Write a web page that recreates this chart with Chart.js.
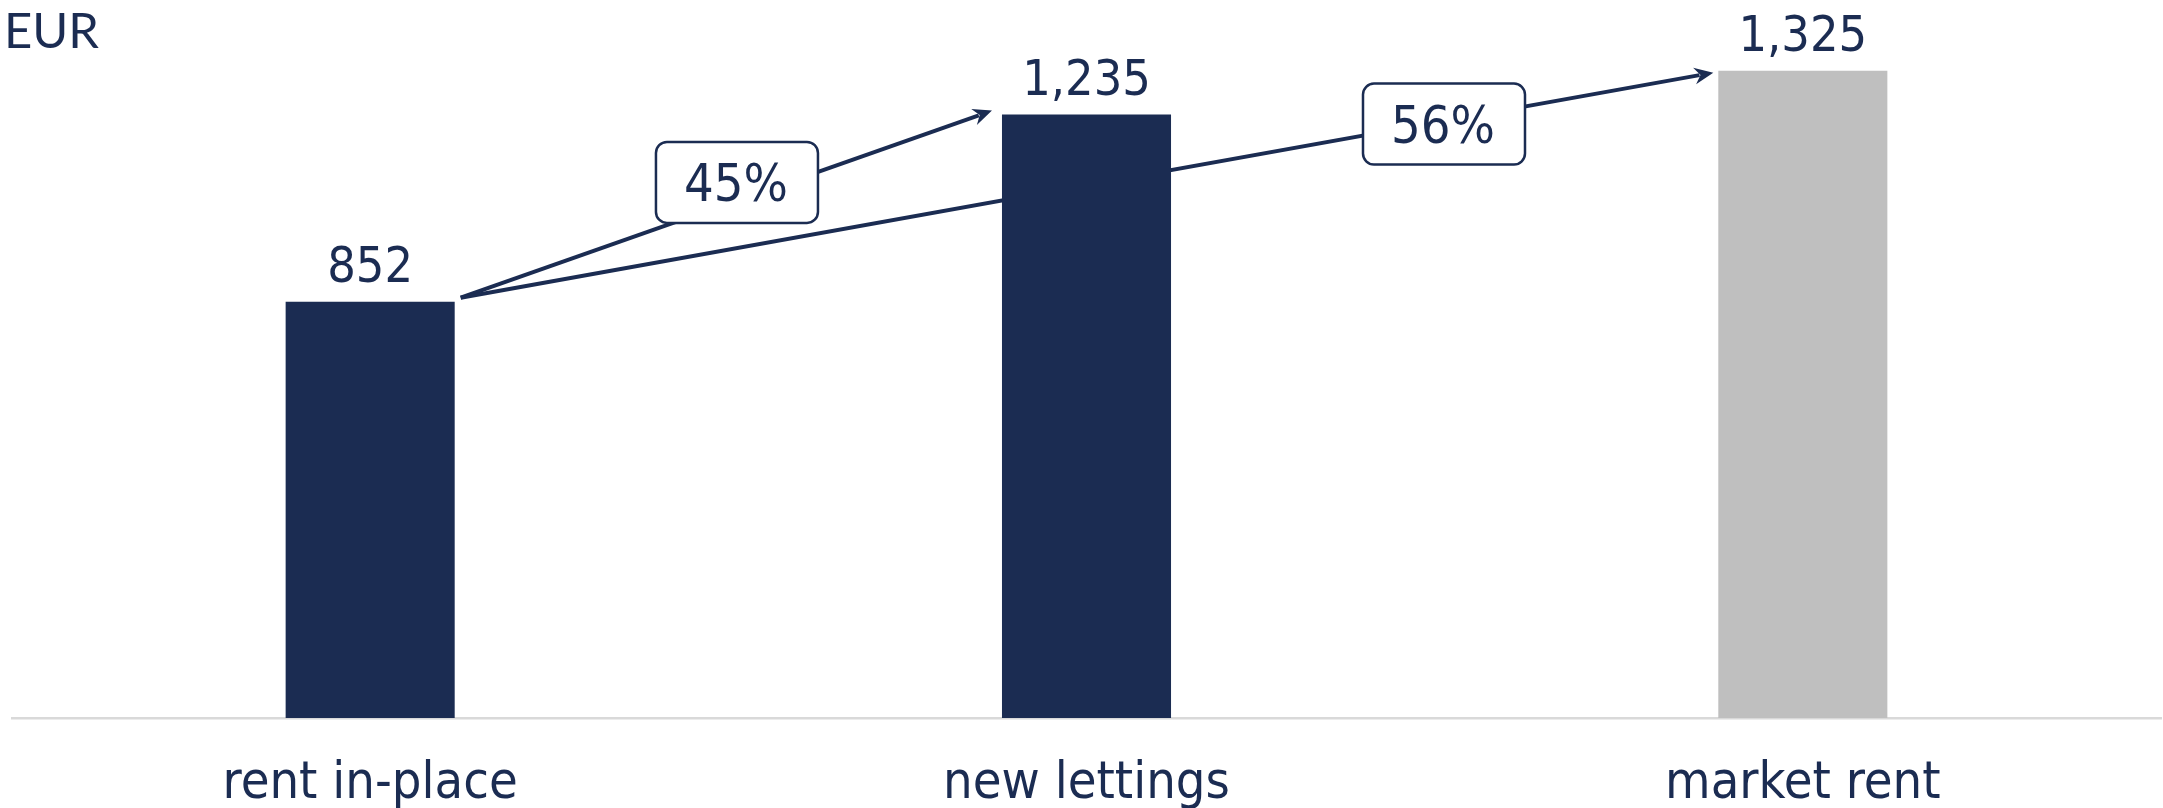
<!DOCTYPE html>
<html>
<head>
<meta charset="utf-8">
<script src="https://cdn.jsdelivr.net/npm/chart.js@4"></script>
<style>
  html, body { margin: 0; padding: 0; background: #fff; }
</style>
</head>
<body>
<canvas id="rentChart" width="2163" height="808"></canvas>
<script>
// Rent levels per sqm in EUR
var categories = ["rent in-place", "new lettings", "market rent"];
var rentValues = [852, 1235, 1325];
var barColors = ["#1b2c52", "#1b2c52", "#bfbfbf"];

// Uplift arrows: start bar, end bar, label
var upliftFrom = [0, 0];
var upliftTo = [1, 2];
var upliftLabels = ["45%", "56%"];

var navy = "#1b2c52";
var numFont = "'DejaVu Sans Condensed', 'DejaVu Sans', sans-serif";

function fmt(v) {
  return v.toLocaleString("en-US");
}

function roundBox(ctx, x, y, w, h, r) {
  ctx.beginPath();
  ctx.moveTo(x + r, y);
  ctx.lineTo(x + w - r, y);
  ctx.arcTo(x + w, y, x + w, y + r, r);
  ctx.lineTo(x + w, y + h - r);
  ctx.arcTo(x + w, y + h, x + w - r, y + h, r);
  ctx.lineTo(x + r, y + h);
  ctx.arcTo(x, y + h, x, y + h - r, r);
  ctx.lineTo(x, y + r);
  ctx.arcTo(x, y, x + r, y, r);
  ctx.closePath();
}

// arrows go under the bars, so the long one disappears behind "new lettings"
var upliftArrows = {
  id: "upliftArrows",
  beforeDatasetsDraw: function (chart) {
    var ctx = chart.ctx;
    var bars = chart.getDatasetMeta(0).data;
    var gapEnd = [10, 5];
    var dyEnd = [-4, 2];
    var boxAt = [0.52, 0.785];
    var boxDy = [-18, 3];
    ctx.save();
    for (var i = 0; i < upliftFrom.length; i++) {
      var a = bars[upliftFrom[i]];
      var b = bars[upliftTo[i]];
      var x1 = a.x + a.width / 2 + 6;
      var y1 = a.y - 4;
      var x2 = b.x - b.width / 2 - gapEnd[i];
      var y2 = b.y + dyEnd[i];
      var ang = Math.atan2(y2 - y1, x2 - x1);
      var cs = Math.cos(ang), sn = Math.sin(ang);
      var head = 19, half = 8.5;

      ctx.strokeStyle = navy;
      ctx.fillStyle = navy;
      ctx.lineWidth = 4;
      ctx.beginPath();
      ctx.moveTo(x1, y1);
      ctx.lineTo(x2 - cs * (head - 5), y2 - sn * (head - 5));
      ctx.stroke();

      // arrow head
      ctx.beginPath();
      ctx.moveTo(x2, y2);
      ctx.lineTo(x2 - head * cs + half * sn, y2 - head * sn - half * cs);
      ctx.lineTo(x2 - (head - 6) * cs, y2 - (head - 6) * sn);
      ctx.lineTo(x2 - head * cs - half * sn, y2 - head * sn + half * cs);
      ctx.closePath();
      ctx.fill();

      // percentage box sitting on the line
      var cx = x1 + (x2 - x1) * boxAt[i];
      var cy = y1 + (y2 - y1) * boxAt[i] + boxDy[i];
      var bw = 162, bh = 81;
      roundBox(ctx, cx - bw / 2, cy - bh / 2, bw, bh, 11);
      ctx.fillStyle = "#ffffff";
      ctx.fill();
      ctx.lineWidth = 2.5;
      ctx.stroke();
      ctx.fillStyle = navy;
      ctx.font = "52px " + numFont;
      ctx.textAlign = "center";
      ctx.textBaseline = "alphabetic";
      ctx.fillText(upliftLabels[i], cx - 1, cy + 19);
    }
    ctx.restore();
  },
  afterDatasetsDraw: function (chart) {
    var ctx = chart.ctx;
    var bars = chart.getDatasetMeta(0).data;
    ctx.save();
    ctx.fillStyle = navy;
    ctx.font = "50px " + numFont;
    ctx.textAlign = "center";
    ctx.textBaseline = "alphabetic";
    bars.forEach(function (bar, i) {
      ctx.fillText(fmt(rentValues[i]), bar.x, bar.y - 20);
    });
    // unit label top left
    ctx.font = "49px Lato, sans-serif";
    ctx.textAlign = "left";
    ctx.fillText("EUR", 4, 48);
    ctx.restore();
  }
};

var ctx = document.getElementById("rentChart").getContext("2d");

var rentChart = new Chart(ctx, {
  type: "bar",
  data: {
    labels: categories,
    datasets: [
      {
        data: rentValues,
        backgroundColor: barColors,
        borderWidth: 0,
        barPercentage: 0.236,
        categoryPercentage: 1
      }
    ]
  },
  options: {
    responsive: false,
    animation: false,
    layout: {
      padding: { left: 12, right: 2, top: 34, bottom: 0 }
    },
    plugins: {
      legend: { display: false },
      tooltip: { enabled: false },
      title: { display: false }
    },
    scales: {
      x: {
        grid: { display: false, drawTicks: false },
        border: { display: true, color: "#d9d9d9", width: 2.5 },
        ticks: {
          color: navy,
          padding: 40,
          font: { family: numFont, size: 52, lineHeight: 1 }
        },
        afterFit: function (scale) {
          scale.height = 90;
        }
      },
      y: {
        display: false,
        min: 0,
        max: 1400
      }
    }
  },
  plugins: [upliftArrows]
});
</script>
</body>
</html>
